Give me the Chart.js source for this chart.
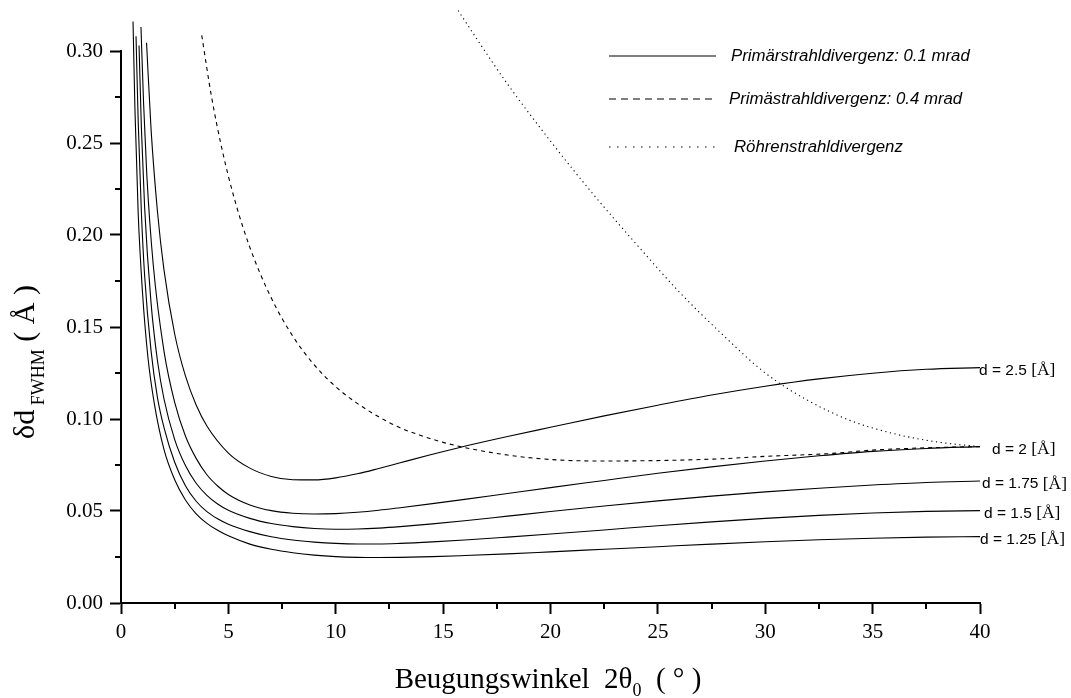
<!DOCTYPE html>
<html>
<head>
<meta charset="utf-8">
<script src="https://cdn.jsdelivr.net/npm/chart.js@4.4.1/dist/chart.umd.min.js"></script>
<style>
  html, body { margin: 0; padding: 0; background: #fff; }
  #c { display: block; }
</style>
</head>
<body>
<canvas id="c" width="1071" height="698"></canvas>
<script>
// ---- data ----
const X_D125 = [0.56, 0.65, 0.8, 1.0, 1.25, 1.55, 2.0, 2.5, 3.0, 3.5, 4.0, 4.5, 5.0, 6.0, 7.0, 8.0, 9.0, 10, 11, 12, 13, 14.5, 16, 18, 20, 22.5, 25, 27.5, 30, 32.5, 35, 37.5, 40];
const Y_D125 = [0.316, 0.268, 0.212, 0.169, 0.134, 0.1085, 0.0835, 0.0670, 0.0560, 0.0485, 0.0433, 0.0395, 0.0365, 0.0320, 0.0292, 0.0273, 0.0260, 0.0252, 0.0248, 0.0247, 0.0248, 0.0252, 0.0258, 0.0267, 0.0278, 0.0292, 0.0306, 0.0320, 0.0333, 0.0344, 0.0352, 0.0358, 0.0361];

const X_D150 = [0.70, 0.8, 0.95, 1.1, 1.4, 1.7, 2.0, 2.5, 3.0, 3.5, 4.0, 4.5, 5.0, 6.0, 7.0, 8.0, 9.0, 10, 11, 12, 13, 14.5, 16, 18, 20, 22.5, 25, 27.5, 30, 32.5, 35, 37.5, 40];
const Y_D150 = [0.308, 0.262, 0.212, 0.178, 0.137, 0.1115, 0.0955, 0.0765, 0.0637, 0.0553, 0.0497, 0.0458, 0.0428, 0.0388, 0.0360, 0.0342, 0.0331, 0.0324, 0.0321, 0.0321, 0.0324, 0.0332, 0.0342, 0.0358, 0.0375, 0.0397, 0.0420, 0.0441, 0.0460, 0.0476, 0.0489, 0.0498, 0.0502];

const X_D175 = [0.84, 0.95, 1.1, 1.4, 1.7, 2.0, 2.5, 3.0, 3.5, 4.0, 4.5, 5.0, 6.0, 7.0, 8.0, 9.0, 10, 11, 12, 13, 14.5, 16, 18, 20, 22.5, 25, 27.5, 30, 32.5, 35, 37.5, 40];
const Y_D175 = [0.303, 0.258, 0.215, 0.163, 0.1315, 0.111, 0.0888, 0.0747, 0.0651, 0.0585, 0.0538, 0.0504, 0.0460, 0.0432, 0.0415, 0.0405, 0.0401, 0.0402, 0.0407, 0.0415, 0.0430, 0.0447, 0.0472, 0.0497, 0.0527, 0.0555, 0.0581, 0.0604, 0.0624, 0.0641, 0.0655, 0.0663];

const X_D200 = [0.93, 1.05, 1.2, 1.5, 2.0, 2.5, 3.0, 3.5, 4.0, 4.5, 5.0, 6.0, 7.0, 8.0, 9.0, 10, 11, 12, 13, 14.5, 16, 18, 20, 22.5, 25, 27.5, 30, 32.5, 35, 37.5, 40];
const Y_D200 = [0.313, 0.272, 0.233, 0.184, 0.137, 0.109, 0.0908, 0.0786, 0.0697, 0.0636, 0.0590, 0.0533, 0.0502, 0.0488, 0.0484, 0.0486, 0.0493, 0.0504, 0.0518, 0.0540, 0.0563, 0.0595, 0.0627, 0.0666, 0.0705, 0.0740, 0.0772, 0.0800, 0.0824, 0.0840, 0.0850];

const X_D250 = [1.19, 1.4, 1.7, 2.0, 2.5, 3.0, 3.5, 4.0, 5.0, 6.0, 7.0, 8.0, 9.0, 10, 11, 12, 13, 14.5, 16, 18, 20, 22.5, 25, 27.5, 30, 32.5, 35, 37.5, 40];
const Y_D250 = [0.3045, 0.2574, 0.2125, 0.1812, 0.1462, 0.1234, 0.1076, 0.0962, 0.0815, 0.0733, 0.0688, 0.0670, 0.0669, 0.0680, 0.0702, 0.0731, 0.0762, 0.0808, 0.0852, 0.0905, 0.0955, 0.1017, 0.1075, 0.1130, 0.1178, 0.1218, 0.1249, 0.1270, 0.1279];

const X_DASH = [3.76, 4.2, 4.7, 5.3, 6, 7, 8, 9, 10, 11, 12, 13, 14, 15, 16, 18, 20, 22, 25, 28, 30, 33, 35, 38, 40];
const Y_DASH = [0.3085, 0.2762, 0.2468, 0.2189, 0.1933, 0.1657, 0.1450, 0.1294, 0.1175, 0.1085, 0.1012, 0.0952, 0.0909, 0.0873, 0.0845, 0.0804, 0.0780, 0.0772, 0.0774, 0.0784, 0.0797, 0.0812, 0.0831, 0.0845, 0.0850];

const X_DOT = [15.7, 16.6, 18, 20, 22, 24, 26, 28, 30, 32, 34, 36, 38, 40];
const Y_DOT = [0.322, 0.306, 0.282, 0.251, 0.222, 0.195, 0.169, 0.146, 0.125, 0.110, 0.099, 0.092, 0.0875, 0.085];

const X_TICKS = [0, 5, 10, 15, 20, 25, 30, 35, 40];
const Y_TICKS = [0.00, 0.05, 0.10, 0.15, 0.20, 0.25, 0.30];
const CURVE_LABELS = ['d = 2.5 ', 'd = 2 ', 'd = 1.75 ', 'd = 1.5 ', 'd = 1.25 '];
const LEGEND_LABELS = ['Primärstrahldivergenz: 0.1 mrad', 'Primästrahldivergenz: 0.4 mrad', 'Röhrenstrahldivergenz'];

// ---- helpers ----
function pts(xs, ys) { return xs.map((x, i) => ({ x: x, y: ys[i] })); }
function ds(xs, ys, dash) {
  return {
    data: pts(xs, ys), showLine: true, pointRadius: 0, borderColor: '#000',
    borderWidth: 1.1, borderDash: dash || [], fill: false, clip: false,
    cubicInterpolationMode: 'monotone'
  };
}

const SERIF = '"Liberation Serif", "Times New Roman", serif';
const SANS = '"Liberation Sans", Arial, sans-serif';

const decor = {
  id: 'decor',
  afterDraw(chart) {
    const ctx = chart.ctx;
    const xs = chart.scales.x, ys = chart.scales.y;
    const ca = chart.chartArea;
    ctx.save();
    ctx.strokeStyle = '#000';
    ctx.fillStyle = '#000';
    // minor ticks
    ctx.lineWidth = 2;
    for (let i = 0; i < X_TICKS.length - 1; i++) {
      const px = Math.round(xs.getPixelForValue((X_TICKS[i] + X_TICKS[i + 1]) / 2));
      ctx.beginPath(); ctx.moveTo(px, ca.bottom); ctx.lineTo(px, ca.bottom + 6); ctx.stroke();
    }
    for (let i = 0; i < Y_TICKS.length - 1; i++) {
      const py = Math.round(ys.getPixelForValue((Y_TICKS[i] + Y_TICKS[i + 1]) / 2));
      ctx.beginPath(); ctx.moveTo(ca.left - 6, py); ctx.lineTo(ca.left, py); ctx.stroke();
    }

    // legend
    const legY = [56, 99, 147];
    const legDash = [[], [7, 5], [1.5, 6.5]];
    const legTextX = [731, 729, 734];
    ctx.lineWidth = 1.2;
    for (let i = 0; i < 3; i++) {
      ctx.setLineDash(legDash[i]);
      ctx.beginPath(); ctx.moveTo(609, legY[i]); ctx.lineTo(716, legY[i]); ctx.stroke();
    }
    ctx.setLineDash([]);
    ctx.font = 'italic 16.8px ' + SANS;
    ctx.textBaseline = 'middle';
    ctx.textAlign = 'left';
    for (let i = 0; i < 3; i++) ctx.fillText(LEGEND_LABELS[i], legTextX[i], legY[i]);

    // curve labels at right end
    const lastVals = [Y_D250, Y_D200, Y_D175, Y_D150, Y_D125].map(a => a[a.length - 1]);
    const labX = [979, 992, 982, 984, 980];
    for (let i = 0; i < 5; i++) {
      const py = ys.getPixelForValue(lastVals[i]) + 3;
      ctx.font = '15.5px ' + SANS;
      ctx.fillText(CURVE_LABELS[i], labX[i], py);
      const w = ctx.measureText(CURVE_LABELS[i]).width;
      ctx.font = '17.5px ' + SERIF;
      ctx.fillText('[Å]', labX[i] + w, py);
    }

    // x title
    const big = '29px ' + SERIF, small = '18px ' + SERIF;
    const p1 = 'Beugungswinkel  2θ', p2 = '0', p3 = '  ( ° )';
    ctx.font = big; const w1 = ctx.measureText(p1).width; const w3 = ctx.measureText(p3).width;
    ctx.font = small; const w2 = ctx.measureText(p2).width;
    let tx = 548 - (w1 + w2 + w3) / 2;
    const by = 688;
    ctx.textBaseline = 'alphabetic';
    ctx.font = big; ctx.fillText(p1, tx, by); tx += w1;
    ctx.font = small; ctx.fillText(p2, tx, by + 8); tx += w2;
    ctx.font = big; ctx.fillText(p3, tx, by);

    // y title (rotated)
    ctx.translate(34, 362);
    ctx.rotate(-Math.PI / 2);
    const q1 = 'δd', q2 = ' FWHM', q3 = ' ( Å )';
    const bigY = '30px ' + SERIF, smallY = '18px ' + SERIF;
    ctx.font = bigY; const v1 = ctx.measureText(q1).width; const v3 = ctx.measureText(q3).width;
    ctx.font = smallY; const v2 = ctx.measureText(q2).width;
    let ty = -(v1 + v2 + v3) / 2;
    ctx.font = bigY; ctx.fillText(q1, ty, 0); ty += v1;
    ctx.font = smallY; ctx.fillText(q2, ty, 10); ty += v2;
    ctx.font = bigY; ctx.fillText(q3, ty, 0);
    ctx.restore();
  }
};

new Chart(document.getElementById('c'), {
  type: 'scatter',
  data: {
    datasets: [
      ds(X_D125, Y_D125), ds(X_D150, Y_D150), ds(X_D175, Y_D175),
      ds(X_D200, Y_D200), ds(X_D250, Y_D250),
      ds(X_DASH, Y_DASH, [4, 4]), ds(X_DOT, Y_DOT, [1.2, 3.5])
    ]
  },
  options: {
    responsive: false,
    animation: false,
    devicePixelRatio: 1,
    layout: { padding: { left: 0, top: 51, right: 91, bottom: 0 } },
    plugins: { legend: { display: false }, tooltip: { enabled: false }, title: { display: false } },
    scales: {
      x: {
        type: 'linear', position: 'bottom', min: 0, max: 40,
        afterFit(s) { s.height = 95; },
        afterBuildTicks(s) { s.ticks = X_TICKS.map(v => ({ value: v })); },
        border: { display: true, color: '#000', width: 2 },
        grid: { display: true, drawOnChartArea: false, drawTicks: true, tickLength: 11, tickWidth: 2, tickColor: '#000' },
        ticks: { color: '#000', padding: 6, maxRotation: 0, font: { family: SERIF, size: 21 }, callback: v => String(v) }
      },
      y: {
        type: 'linear', position: 'left', min: 0, max: 0.30,
        afterFit(s) { s.width = 121; },
        afterBuildTicks(s) { s.ticks = Y_TICKS.map(v => ({ value: v })); },
        border: { display: true, color: '#000', width: 2 },
        grid: { display: true, drawOnChartArea: false, drawTicks: true, tickLength: 11, tickWidth: 2, tickColor: '#000' },
        ticks: { color: '#000', padding: 7, font: { family: SERIF, size: 21 }, callback: v => Number(v).toFixed(2) }
      }
    }
  },
  plugins: [decor]
});
</script>
</body>
</html>
